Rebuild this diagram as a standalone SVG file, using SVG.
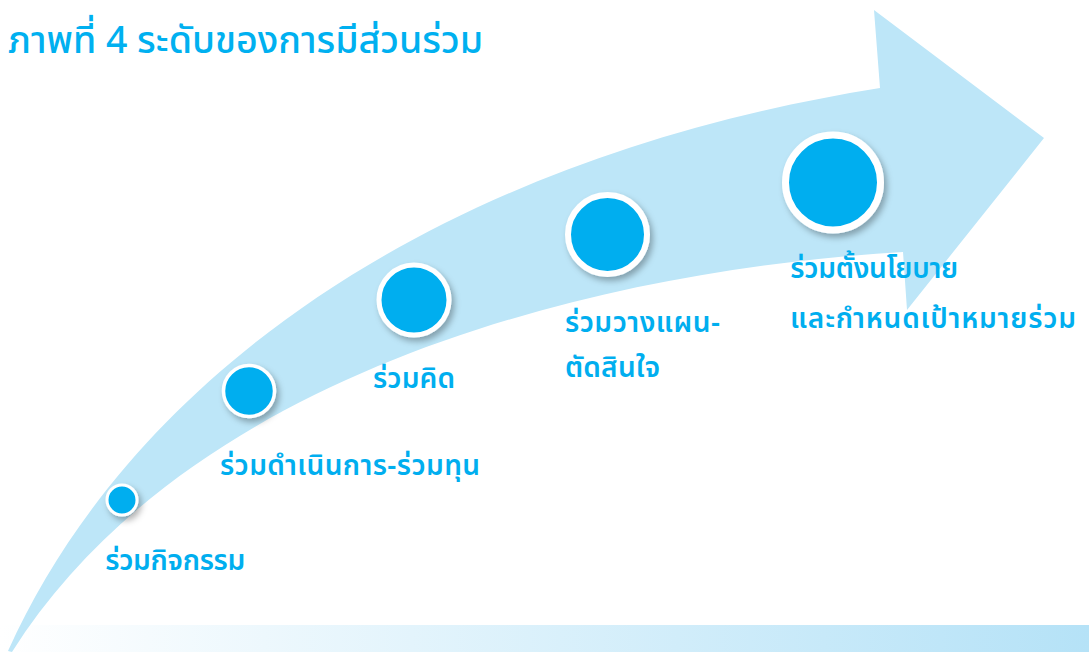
<svg xmlns="http://www.w3.org/2000/svg" width="1089" height="652" viewBox="0 0 1089 652">
<defs>
<linearGradient id="bar" x1="0" y1="0" x2="1" y2="0">
<stop offset="0" stop-color="#ffffff"/>
<stop offset="1" stop-color="#b5e2f7"/>
</linearGradient>
<filter id="sh" x="-30%" y="-30%" width="170%" height="170%">
<feDropShadow dx="3" dy="4" stdDeviation="3" flood-color="#000" flood-opacity="0.3"/>
</filter>
<style>
.dot{fill:#00aeef;stroke:#fff;filter:url(#sh)}
.lbl{font-family:"Noto Sans Thai","Noto Sans",sans-serif;font-weight:600;font-size:28px;fill:#00aeef}
.ttl{font-family:"Noto Sans Thai","Noto Sans",sans-serif;font-weight:500;font-size:37.5px;fill:#00b0f0}
</style>
</defs>
<rect width="1089" height="652" fill="#fff"/>
<rect x="0" y="625" width="1089" height="27" fill="url(#bar)"/>
<g id="arrow">
<path d="M8 651 C130 380 430 160 880 88 L874 10 L1044 138 L907 310 L903 252 C600 270 190 370 12 652 Z" fill="#bde6f8"/>
</g>
<text class="ttl" x="8" y="53">ภาพที่ 4 ระดับของการมีส่วนร่วม</text>
<g id="n1"><circle class="dot" cx="122" cy="500" r="15" stroke-width="3"/><text class="lbl" x="105" y="570" textLength="140">ร่วมกิจกรรม</text></g>
<g id="n2"><circle class="dot" cx="249" cy="391" r="25.5" stroke-width="3.5"/><text class="lbl" x="220" y="475" textLength="260">ร่วมดำเนินการ-ร่วมทุน</text></g>
<g id="n3"><circle class="dot" cx="414" cy="300" r="35" stroke-width="5"/><text class="lbl" x="373" y="388" textLength="82">ร่วมคิด</text></g>
<g id="n4"><circle class="dot" cx="607.5" cy="234.5" r="39.5" stroke-width="6"/><text class="lbl" x="565" y="332" textLength="155">ร่วมวางแผน-</text><text class="lbl" x="565" y="377" textLength="95">ตัดสินใจ</text></g>
<g id="n5"><circle class="dot" cx="833" cy="182.5" r="47.5" stroke-width="7"/><text class="lbl" x="790" y="278" textLength="168">ร่วมตั้งนโยบาย</text><text class="lbl" x="790" y="328" textLength="286">และกำหนดเป้าหมายร่วม</text></g>
</svg>
